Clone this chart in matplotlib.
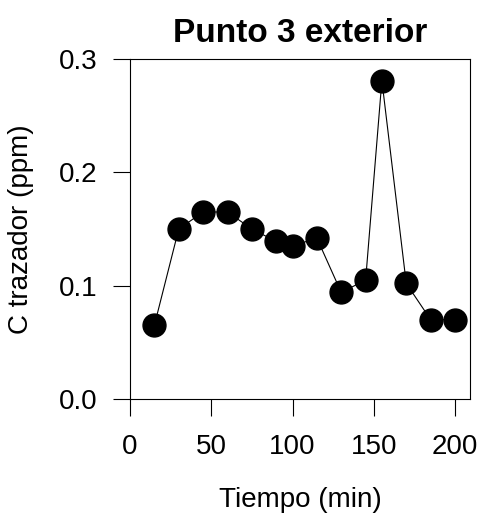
import matplotlib
matplotlib.use("Agg")
import matplotlib.pyplot as plt

plt.rcParams['font.family'] = ['Liberation Sans', 'DejaVu Sans']

tiempo = [15, 30, 45, 60, 75, 90, 100, 115, 130, 145, 155, 170, 185, 200]
conc = [0.065, 0.150, 0.165, 0.165, 0.150, 0.139, 0.135, 0.142, 0.094,
        0.105, 0.281, 0.102, 0.070, 0.070]
xticks = [0, 50, 100, 150, 200]
yticks = [0.0, 0.1, 0.2, 0.3]

fig = plt.figure(figsize=(4.82, 5.22), dpi=100)
ax = fig.add_axes([130 / 482, 1 - 399 / 522, 340 / 482, 340 / 522])

ax.plot(tiempo, conc, color='black', linewidth=0.8, marker='o',
        markersize=16.5, markerfacecolor='black', markeredgecolor='black',
        clip_on=False)

ax.set_xlim(0, 340 / 1.625)
ax.set_ylim(0, 0.3)
ax.set_xticks(xticks)
ax.set_xticklabels([str(v) for v in xticks])
ax.set_yticks(yticks)
ax.set_yticklabels([f"{v:.1f}" for v in yticks])

for s in ax.spines.values():
    s.set_linewidth(0.8)
ax.tick_params(direction='out', length=12.5, width=0.8, labelsize=20)
ax.tick_params(axis='x', pad=13)
ax.tick_params(axis='y', pad=11)

ax.set_xlabel('Tiempo (min)', fontsize=20, labelpad=19)
ax.set_ylabel('C trazador (ppm)', fontsize=20, labelpad=18)
ax.set_title('Punto 3 exterior', fontsize=24, fontweight='bold', pad=12)

fig.savefig('out.png', dpi=100)
